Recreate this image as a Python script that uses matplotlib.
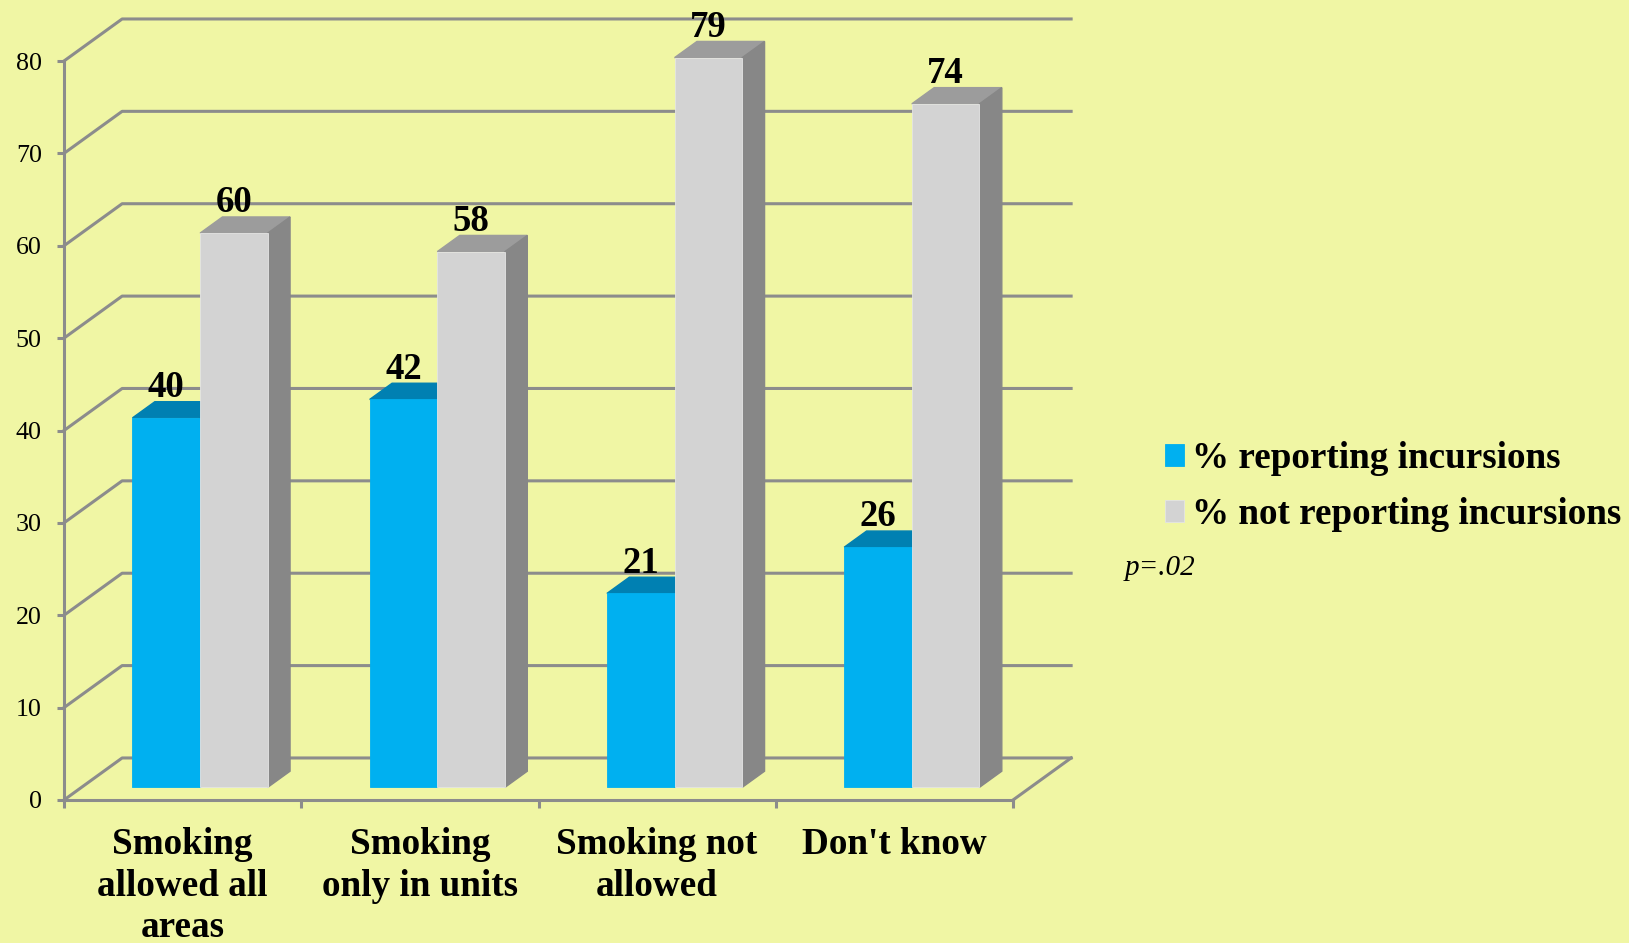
import numpy as np
import matplotlib.pyplot as plt
from matplotlib.patches import Polygon

categories = ['Smoking\nallowed all\nareas', 'Smoking\nonly in units',
              'Smoking not\nallowed', "Don't know"]
reporting = [40, 42, 21, 26]
not_reporting = [60, 58, 79, 74]
series_names = ['% reporting incursions', '% not reporting incursions']
yticks = [0, 10, 20, 30, 40, 50, 60, 70, 80]

bg = '#f0f6a4'
grid_col = '#8c8c8c'
# front, top, side colours for each series
colors = [('#00b0f0', '#0080b2', '#0080b2'),
          ('#d3d3d3', '#9c9c9c', '#878787')]

# fake 3d: floor depth in data units, bar depth range, bar width
DX, DY = 0.245, 4.55
F0, F1 = 0.30, 0.685
W = 0.285

plt.rcParams['font.family'] = ['Liberation Serif', 'DejaVu Serif']

fig = plt.figure(figsize=(16.29, 9.43), dpi=100, facecolor=bg)
ax = fig.add_axes([64 / 1629, 143 / 943, 949 / 1629, 739 / 943])
ax.set_facecolor(bg)
ax.set_xlim(0, len(categories))
ax.set_ylim(0, 80)

# walls / gridlines
for v in yticks:
    xs = [0, DX, len(categories) + DX]
    ys = [v, v + DY, v + DY]
    ax.plot(xs, ys, color=grid_col, lw=2.2, clip_on=False, zorder=1)
ax.plot([len(categories), len(categories) + DX], [0, DY], color=grid_col,
        lw=2.2, clip_on=False, zorder=1)

x = np.arange(len(categories))
a = F0 * DY
sdx, sdy = (F1 - F0) * DX, (F1 - F0) * DY
handles = []
for j, vals in enumerate([reporting, not_reporting]):
    front, top, side = colors[j]
    left = x + 0.5 - W + j * W + F0 * DX
    bars = ax.bar(left, vals, width=W, bottom=a, align='edge', color=front,
                  edgecolor='#e4e4e4' if j else front, lw=0.6,
                  zorder=3.5 + j, clip_on=False)
    handles.append(bars)
    for l, v in zip(left, vals):
        ax.add_patch(Polygon([(l, v + a), (l + W, v + a),
                              (l + W + sdx, v + a + sdy), (l + sdx, v + a + sdy)],
                             closed=True, color=top, zorder=3 + j, clip_on=False))
        ax.add_patch(Polygon([(l + W, a), (l + W + sdx, a + sdy),
                              (l + W + sdx, v + a + sdy), (l + W, v + a)],
                             closed=True, color=side, zorder=3 + j, clip_on=False))
        ax.text(l + W / 2, v + F1 * DY + 0.5, str(v), ha='center', va='baseline',
                fontsize=26.5, fontweight='bold', zorder=6)

for s in ['top', 'right']:
    ax.spines[s].set_visible(False)
for s in ['left', 'bottom']:
    ax.spines[s].set_color(grid_col)
    ax.spines[s].set_linewidth(2.2)
    ax.spines[s].set_zorder(2)

ax.set_yticks(yticks)
ax.tick_params(axis='y', direction='out', length=5, width=2.2, color=grid_col,
               labelsize=18.7, pad=11)
ax.set_xticks(np.arange(len(categories) + 1))
ax.set_xticklabels([])
ax.tick_params(axis='x', which='major', direction='out', length=6, width=2.2,
               color=grid_col)
ax.set_xticks(x + 0.5, minor=True)
ax.set_xticklabels(categories, minor=True, fontsize=26.7, fontweight='bold',
                   linespacing=1.24)
ax.tick_params(axis='x', which='minor', length=0, pad=19.5)

ax.legend(handles, series_names, loc='upper left',
          bbox_to_anchor=(1165 / 1629, 1 - 441 / 943), bbox_transform=fig.transFigure,
          frameon=False, borderpad=0, borderaxespad=0, handlelength=0.52,
          handleheight=0.52, handletextpad=0.22, labelspacing=0.57,
          prop={'size': 26.7, 'weight': 'bold'})

fig.text(1125 / 1629, 1 - 568 / 943, 'p=.02', fontsize=21, style='italic',
         va='center', ha='left')

fig.savefig('out.png', dpi=100, facecolor=bg)
